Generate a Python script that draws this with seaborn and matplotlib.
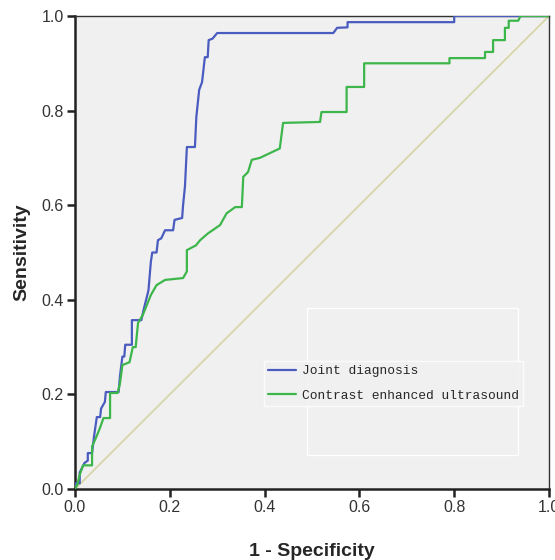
import numpy as np
import pandas as pd
import matplotlib
matplotlib.use("Agg")
import matplotlib.pyplot as plt
import seaborn as sns

# ROC curve vertices (1 - specificity, sensitivity)
joint_fpr = [0.000, 0.000, 0.010, 0.010, 0.020, 0.027, 0.027, 0.036, 0.040, 0.046,
             0.053, 0.055, 0.063, 0.065, 0.092, 0.095, 0.100, 0.104, 0.106, 0.120,
             0.120, 0.140, 0.145, 0.155, 0.160, 0.163, 0.172, 0.175, 0.182, 0.190,
             0.207, 0.210, 0.226, 0.228, 0.232, 0.236, 0.253, 0.256, 0.262, 0.268,
             0.274, 0.280, 0.282, 0.290, 0.300, 0.545, 0.553, 0.575, 0.575, 0.800,
             0.800, 1.000]
joint_tpr = [0.000, 0.012, 0.012, 0.035, 0.055, 0.060, 0.076, 0.076, 0.110, 0.152,
             0.152, 0.170, 0.184, 0.205, 0.205, 0.240, 0.280, 0.280, 0.305, 0.305,
             0.357, 0.357, 0.380, 0.420, 0.480, 0.500, 0.500, 0.526, 0.530, 0.547,
             0.547, 0.569, 0.573, 0.600, 0.640, 0.723, 0.723, 0.787, 0.844, 0.860,
             0.913, 0.913, 0.949, 0.952, 0.964, 0.964, 0.975, 0.976, 0.987, 0.987,
             1.000, 1.000]

ceus_fpr = [0.000, 0.005, 0.010, 0.017, 0.036, 0.036, 0.045, 0.053, 0.060, 0.074,
            0.074, 0.090, 0.095, 0.100, 0.115, 0.122, 0.128, 0.133, 0.143, 0.150,
            0.160, 0.172, 0.190, 0.228, 0.236, 0.236, 0.255, 0.264, 0.280, 0.306,
            0.320, 0.338, 0.352, 0.355, 0.365, 0.373, 0.390, 0.411, 0.432, 0.439,
            0.517, 0.520, 0.573, 0.573, 0.610, 0.610, 0.790, 0.790, 0.865, 0.865,
            0.882, 0.882, 0.907, 0.907, 0.915, 0.915, 0.935, 0.940, 1.000]
ceus_tpr = [0.000, 0.010, 0.030, 0.050, 0.050, 0.090, 0.110, 0.130, 0.150, 0.150,
            0.203, 0.203, 0.224, 0.262, 0.268, 0.300, 0.300, 0.351, 0.368, 0.385,
            0.410, 0.431, 0.442, 0.446, 0.460, 0.505, 0.515, 0.526, 0.540, 0.558,
            0.583, 0.596, 0.596, 0.660, 0.670, 0.696, 0.700, 0.710, 0.720, 0.774,
            0.776, 0.797, 0.797, 0.850, 0.850, 0.900, 0.900, 0.911, 0.911, 0.924,
            0.924, 0.949, 0.949, 0.975, 0.975, 0.990, 0.990, 1.000, 1.000]

ref_line = [0.0, 1.0]

series_names = ["Joint diagnosis", "Contrast enhanced ultrasound"]
series_colors = ["#4a5cc0", "#3db64b"]

df = pd.concat([
    pd.DataFrame({"fpr": joint_fpr, "tpr": joint_tpr, "curve": series_names[0]}),
    pd.DataFrame({"fpr": ceus_fpr, "tpr": ceus_tpr, "curve": series_names[1]}),
])

sns.set_style("ticks", {"axes.facecolor": "#f0f0f0"})
plt.rcParams["font.family"] = ["Liberation Sans", "DejaVu Sans"]

fig = plt.figure(figsize=(5.55, 5.6), dpi=100)
ax = fig.add_axes([75 / 555, 1 - 489 / 560, 474 / 555, 473 / 560])

# diagonal reference line
ax.plot(ref_line, ref_line, color="#d6d6a6", lw=1.3, zorder=1)

sns.lineplot(data=df, x="fpr", y="tpr", hue="curve", palette=series_colors,
             sort=False, estimator=None, units="curve", lw=1.6, ax=ax, zorder=3)

ax.set_xlim(0, 1)
ax.set_ylim(0, 1)
ticks = [0.0, 0.2, 0.4, 0.6, 0.8, 1.0]
ax.set_xticks(ticks)
ax.set_yticks(ticks)
ax.set_xticklabels([f"{t:.1f}" for t in ticks])
ax.set_yticklabels([f"{t:.1f}" for t in ticks])
ax.tick_params(axis="both", direction="out", length=6, width=1.8, colors="#222222",
               labelsize=11.5, labelcolor="#333333", pad=2)

for side in ["left", "bottom"]:
    ax.spines[side].set_linewidth(1.8)
    ax.spines[side].set_color("#222222")
for side in ["top", "right"]:
    ax.spines[side].set_linewidth(1.0)
    ax.spines[side].set_color("#333333")

ax.set_xlabel("1 - Specificity", fontsize=14, fontweight="bold", labelpad=20)
ax.set_ylabel("Sensitivity", fontsize=14, fontweight="bold", labelpad=8)

# faint empty frame left behind in the legend area
ax.add_patch(plt.Rectangle((0.49, 0.072), 0.445, 0.31, transform=ax.transAxes,
                           fill=False, edgecolor="white", lw=1.0, zorder=2))

leg = ax.legend(loc="center left", bbox_to_anchor=(0.385, 0.223), frameon=True,
                prop={"family": "Liberation Mono", "size": 9.3},
                handlelength=2.2, handletextpad=0.45, labelspacing=0.95,
                borderpad=0.3, fancybox=False)
leg.get_frame().set_facecolor("#f0f0f0")
leg.get_frame().set_edgecolor("white")
for line in leg.get_lines():
    line.set_linewidth(1.6)

fig.savefig("out.png", dpi=100)
